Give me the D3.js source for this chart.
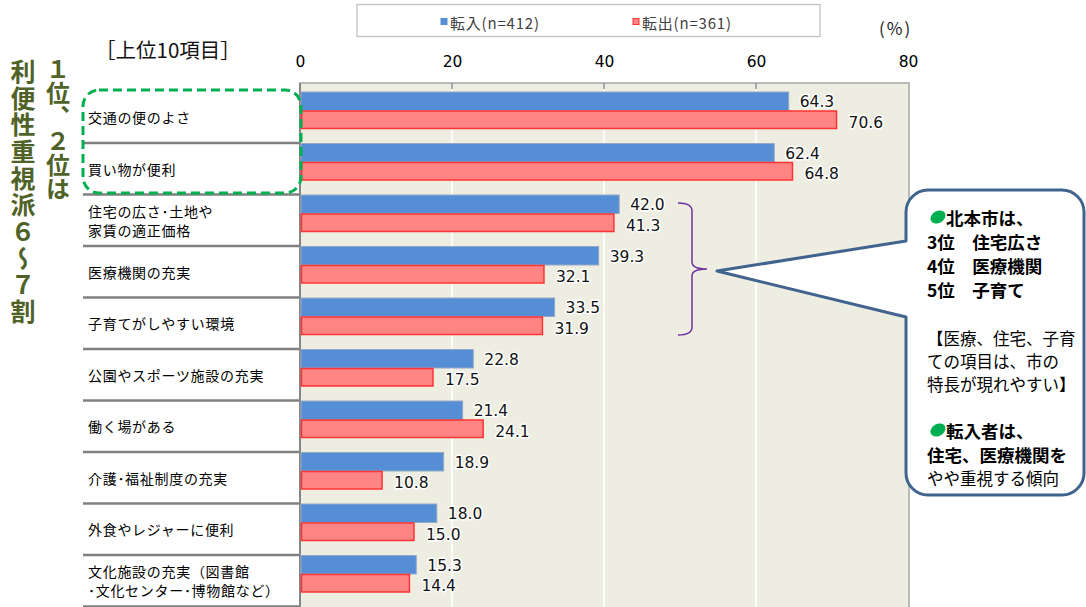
<!DOCTYPE html>
<html><head><meta charset="utf-8">
<script src="https://cdn.jsdelivr.net/npm/d3@7"></script>
<style>
html,body{margin:0;padding:0;background:#fff;}
svg{display:block;}
</style></head>
<body>
<script>
// ---- data ----
const categories = [
  "交通の便のよさ",
  "買い物が便利",
  "住宅の広さ･土地や\n家賃の適正価格",
  "医療機関の充実",
  "子育てがしやすい環境",
  "公園やスポーツ施設の充実",
  "働く場がある",
  "介護･福祉制度の充実",
  "外食やレジャーに便利",
  "文化施設の充実（図書館\n･文化センター･博物館など）"
];
const inValues  = [64.3, 62.4, 42.0, 39.3, 33.5, 22.8, 21.4, 18.9, 18.0, 15.3];
const outValues = [70.6, 64.8, 41.3, 32.1, 31.9, 17.5, 24.1, 10.8, 15.0, 14.4];
const seriesNames = ["転入(n=412)", "転出(n=361)"];
const xTicks = [0, 20, 40, 60, 80];
const sideCol1 = "１位、２位は";
const sideCol2 = "利便性重視派６～７割";
const calloutBold1 = ["北本市は、", "3位　住宅広さ", "4位　医療機関", "5位　子育て"];
const calloutNote = ["【医療、住宅、子育", "ての項目は、市の", "特長が現れやすい】"];
const calloutBold2 = ["転入者は、", "住宅、医療機関を"];
const calloutTail = "やや重視する傾向";

// ---- layout ----
const W = 1086, H = 607;
const JP = "'Noto Sans CJK JP','Noto Sans',sans-serif";
const NUM = "'DejaVu Sans',Verdana,sans-serif";
const BLUE = "#558ED5", RED_FILL = "#FF8585", RED_STROKE = "#FF3333";
const svg = d3.select("body").append("svg").attr("width", W).attr("height", H);

const plot = {left: 300, right: 908, top: 83, bottom: 620};
const x = d3.scaleLinear().domain([0, 80]).range([plot.left, plot.right]);
const y = d3.scaleBand().domain(categories).range([91.5, 606.5]).padding(0);

// plot background
svg.append("rect").attr("x", plot.left).attr("y", plot.top)
  .attr("width", x(80) - plot.left + 1).attr("height", plot.bottom - plot.top)
  .attr("fill", "#EEEDE2").attr("stroke", "#A6A6A6").attr("stroke-width", 1.5);

// gridlines
svg.append("g").selectAll("line").data(xTicks.filter(d => d > 0 && d < 80)).join("line")
  .attr("x1", d => x(d)).attr("x2", d => x(d))
  .attr("y1", plot.top + 1).attr("y2", plot.bottom)
  .attr("stroke", "#fff").attr("stroke-width", 1.5);
// small top ticks
svg.append("g").selectAll("line").data(xTicks.filter(d => d > 0 && d < 80)).join("line")
  .attr("x1", d => x(d)).attr("x2", d => x(d))
  .attr("y1", plot.top).attr("y2", plot.top + 6)
  .attr("stroke", "#8C8C8C").attr("stroke-width", 1.5);

// top axis labels
const axis = d3.axisTop(x).tickValues(xTicks).tickSize(0).tickPadding(16).tickFormat(d3.format("d"));
const ga = svg.append("g").attr("transform", `translate(0,${plot.top})`).call(axis);
ga.select(".domain").remove();
ga.selectAll("text").attr("font-family", NUM).attr("font-size", 15.5).attr("fill", "#000");

// separators (label table lines) extending to axis
svg.append("g").selectAll("line").data(categories).join("line")
  .attr("x1", 83).attr("x2", plot.left)
  .attr("y1", d => y(d) + y.bandwidth()).attr("y2", d => y(d) + y.bandwidth())
  .attr("stroke", "#808080").attr("stroke-width", 2.5);

// left axis line
svg.append("line").attr("x1", plot.left).attr("x2", plot.left)
  .attr("y1", plot.top).attr("y2", plot.bottom)
  .attr("stroke", "#868686").attr("stroke-width", 2);

// bars
const barH = 18.5;
svg.append("g").selectAll("rect").data(inValues).join("rect")
  .attr("x", x(0) + 1).attr("y", (d, i) => y(categories[i]) + 0.5)
  .attr("width", d => x(d) - x(0) - 1).attr("height", barH)
  .attr("fill", BLUE).attr("stroke", "#95A9C6").attr("stroke-width", 1);
svg.append("g").selectAll("rect").data(outValues).join("rect")
  .attr("x", x(0) + 1.5).attr("y", (d, i) => y(categories[i]) + 19.5)
  .attr("width", d => x(d) - x(0) - 1.5).attr("height", 17.5)
  .attr("fill", RED_FILL).attr("stroke", RED_STROKE).attr("stroke-width", 1.5);

// data labels
function labels(vals, dy, dx) {
  svg.append("g").selectAll("text").data(vals).join("text")
    .attr("x", d => x(d) + dx).attr("y", (d, i) => y(categories[i]) + dy)
    .attr("dominant-baseline", "central")
    .attr("font-family", NUM).attr("font-size", 15.5).attr("fill", "#111")
    .attr("stroke", "#fff").attr("stroke-width", 3).attr("paint-order", "stroke")
    .attr("stroke-linejoin", "round")
    .text(d => d.toFixed(1));
}
labels(inValues, 10.5, 11);
labels(outValues, 31, 12);

// category labels
const gl = svg.append("g");
categories.forEach(c => {
  const lines = c.split("\n");
  const cy = y(c) + y.bandwidth() / 2;
  const t = gl.append("text").attr("font-family", JP).attr("font-size", 14)
    .attr("letter-spacing", 0.7).attr("fill", "#000");
  lines.forEach((s, j) => {
    t.append("tspan").attr("x", 88)
      .attr("y", cy + (j - (lines.length - 1) / 2) * 19)
      .attr("dominant-baseline", "central").text(s);
  });
});

// green dashed rounded box around top 2
svg.append("rect").attr("x", 83).attr("y", 90).attr("width", 218).attr("height", 103)
  .attr("rx", 16).attr("fill", "none").attr("stroke", "#00B050")
  .attr("stroke-width", 3).attr("stroke-dasharray", "9,5");

// legend
svg.append("rect").attr("x", 357).attr("y", 4.5).attr("width", 463).attr("height", 32)
  .attr("fill", "#fff").attr("stroke", "#BFBFBF").attr("stroke-width", 1.2);
const legX = [441, 633];
seriesNames.forEach((n, i) => {
  svg.append("rect").attr("x", legX[i]).attr("y", 18.5).attr("width", 6).attr("height", 6)
    .attr("fill", i === 0 ? BLUE : RED_FILL).attr("stroke", i === 0 ? BLUE : RED_STROKE).attr("stroke-width", 1);
  svg.append("text").attr("x", legX[i] + 9).attr("y", 22).attr("dominant-baseline", "central")
    .attr("font-family", JP).attr("font-size", 15).attr("letter-spacing", 0.8)
    .attr("fill", "#404040").text(n);
});
svg.append("text").attr("x", 879).attr("y", 27).attr("dominant-baseline", "central")
  .attr("font-family", JP).attr("font-size", 17).attr("letter-spacing", 2)
  .attr("fill", "#222").text("(%)");

// title
svg.append("text").attr("x", 95).attr("y", 49).attr("dominant-baseline", "central")
  .attr("font-family", JP).attr("font-size", 20.5).attr("fill", "#111").text("［上位10項目］");

// left vertical green text (single vertical text elements)
const GREEN_TXT = "#4F6228";
svg.append("text").attr("x", 58).attr("y", 57)
  .style("writing-mode", "vertical-rl").style("text-orientation", "mixed")
  .attr("font-family", JP).attr("font-weight", 700).attr("font-size", 24)
  .attr("fill", GREEN_TXT).text(sideCol1);
svg.append("text").attr("x", 23).attr("y", 59)
  .style("writing-mode", "vertical-rl").style("text-orientation", "mixed")
  .attr("font-family", JP).attr("font-weight", 700).attr("font-size", 25)
  .attr("letter-spacing", 1.7)
  .attr("fill", GREEN_TXT).text(sideCol2);

// purple brace
svg.append("path")
  .attr("d", "M678,203 Q692,203 692,211 V262 Q692,269 707,269 Q692,269 692,276 V327 Q692,335 678,335")
  .attr("fill", "none").attr("stroke", "#7030A0").attr("stroke-width", 1.5);

// callout
svg.append("path")
  .attr("d", "M928,190 H1062 A22,22 0 0 1 1084,212 V473 A22,22 0 0 1 1062,495 H928 A22,22 0 0 1 906,473 V317 L717,271 L906,241 V212 A22,22 0 0 1 928,190 Z")
  .attr("fill", "#fff").attr("stroke", "#41648F").attr("stroke-width", 3).attr("stroke-linejoin", "round");

const bulletG = "#00B050";
function bullet(cx, cy) {
  svg.append("ellipse").attr("cx", cx).attr("cy", cy).attr("rx", 8).attr("ry", 6)
    .attr("transform", `rotate(-30,${cx},${cy})`).attr("fill", bulletG);
}
bullet(938, 217);
const b1Y = [217, 241, 265, 289];
const t1 = svg.append("text").attr("font-family", JP).attr("font-weight", 700)
  .attr("font-size", 17.5).attr("fill", "#000");
calloutBold1.forEach((s, i) => {
  t1.append("tspan").attr("x", i === 0 ? 946 : 927).attr("y", b1Y[i])
    .attr("dominant-baseline", "central").text(s);
});
const nY = [338, 361, 384];
const t2 = svg.append("text").attr("font-family", JP).attr("font-size", 16.5).attr("fill", "#000");
calloutNote.forEach((s, i) => {
  t2.append("tspan").attr("x", 927).attr("y", nY[i]).attr("dominant-baseline", "central").text(s);
});
bullet(938, 430);
const b2Y = [430, 454];
const t3 = svg.append("text").attr("font-family", JP).attr("fill", "#000");
calloutBold2.forEach((s, i) => {
  t3.append("tspan").attr("x", i === 0 ? 946 : 927).attr("y", b2Y[i])
    .attr("dominant-baseline", "central")
    .attr("font-weight", 700).attr("font-size", 17.5).text(s);
});
t3.append("tspan").attr("x", 927).attr("y", 478).attr("dominant-baseline", "central")
  .attr("font-weight", 400).attr("font-size", 16.5).text(calloutTail);
</script>
</body></html>
